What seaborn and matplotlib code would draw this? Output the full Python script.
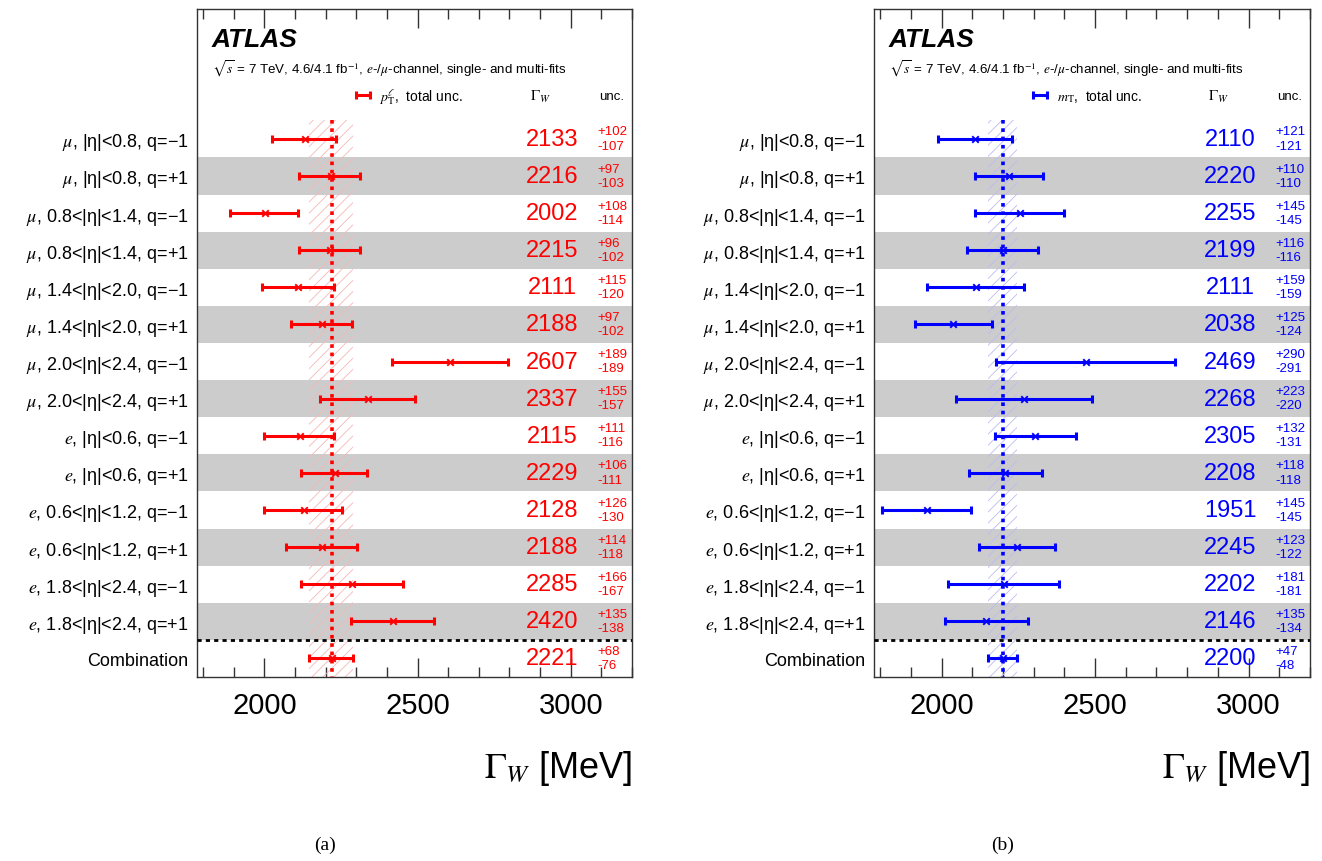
import numpy as np
import pandas as pd
import matplotlib
matplotlib.use("Agg")
import matplotlib.pyplot as plt
from matplotlib.ticker import MultipleLocator
import seaborn as sns

# ---------------- data ----------------
categories = [
    r"$\mu$, |η|<0.8, q=−1",
    r"$\mu$, |η|<0.8, q=+1",
    r"$\mu$, 0.8<|η|<1.4, q=−1",
    r"$\mu$, 0.8<|η|<1.4, q=+1",
    r"$\mu$, 1.4<|η|<2.0, q=−1",
    r"$\mu$, 1.4<|η|<2.0, q=+1",
    r"$\mu$, 2.0<|η|<2.4, q=−1",
    r"$\mu$, 2.0<|η|<2.4, q=+1",
    r"$e$, |η|<0.6, q=−1",
    r"$e$, |η|<0.6, q=+1",
    r"$e$, 0.6<|η|<1.2, q=−1",
    r"$e$, 0.6<|η|<1.2, q=+1",
    r"$e$, 1.8<|η|<2.4, q=−1",
    r"$e$, 1.8<|η|<2.4, q=+1",
    "Combination",
]

pt_values = [2133, 2216, 2002, 2215, 2111, 2188, 2607, 2337, 2115, 2229, 2128, 2188, 2285, 2420, 2221]
pt_up = [102, 97, 108, 96, 115, 97, 189, 155, 111, 106, 126, 114, 166, 135, 68]
pt_down = [107, 103, 114, 102, 120, 102, 189, 157, 116, 111, 130, 118, 167, 138, 76]

mt_values = [2110, 2220, 2255, 2199, 2111, 2038, 2469, 2268, 2305, 2208, 1951, 2245, 2202, 2146, 2200]
mt_up = [121, 110, 145, 116, 159, 125, 290, 223, 132, 118, 145, 123, 181, 135, 47]
mt_down = [121, 110, 145, 116, 159, 124, 291, 220, 131, 118, 145, 122, 181, 134, 48]

xticks = [2000, 2500, 3000]
panel_tags = ["(a)", "(b)"]
legend_labels = [r"$p_{\mathrm{T}}^{\ell}$,  total unc.", r"$m_{\mathrm{T}}$,  total unc."]
colors = ["#ff0000", "#0000ff"]
band_colors = ["#f6b8b8", "#bcbcf2"]

# ---------------- style ----------------
sns.set_style("ticks")
plt.rcParams["font.family"] = ["Liberation Sans", "DejaVu Sans"]
plt.rcParams["mathtext.fontset"] = "stix"
plt.rcParams["hatch.linewidth"] = 0.6
for key in ["text.color", "axes.labelcolor", "xtick.color", "ytick.color", "axes.edgecolor"]:
    plt.rcParams[key] = "black"

W, H = 1322, 862
fig = plt.figure(figsize=(W / 100, H / 100), dpi=100)

def px_axes(x0, y0, x1, y1):
    return fig.add_axes([x0 / W, 1 - y1 / H, (x1 - x0) / W, (y1 - y0) / H])

axes = [px_axes(197, 10, 632, 678), px_axes(874, 10, 1310, 678)]
panel_x = [325, 1003]

datasets = [(pt_values, pt_up, pt_down), (mt_values, mt_up, mt_down)]

n = len(categories)
rows = np.arange(n)

for k, ax in enumerate(axes):
    vals, up, down = datasets[k]
    col = colors[k]
    ax.set_xlim(1780, 3200)
    ax.set_ylim(n - 0.5, -3.5)

    # grey bands for q=+1 rows
    for i in range(1, n - 1, 2):
        ax.axhspan(i - 0.5, i + 0.5, color="#cccccc", lw=0, zorder=0)

    comb = vals[-1]
    # hatched combination band
    ax.fill_betweenx([-0.5, n - 0.5], comb - down[-1], comb + up[-1],
                     facecolor="none", edgecolor=band_colors[k], hatch="///",
                     lw=0, zorder=1)
    ax.vlines(comb, -0.5, n - 0.5, colors=col, linestyles=(0, (1.0, 1.3)),
              lw=2.6, zorder=2)

    # separator before combination
    ax.axhline(n - 1.5, color="black", lw=2, ls=(0, (1.5, 1.5)), zorder=3)

    # error bars
    eb = ax.errorbar(vals, rows, xerr=[down, up], fmt="none", ecolor=col,
                     elinewidth=2.2, capsize=3, capthick=2.2, zorder=4,
                     label=legend_labels[k])
    df = pd.DataFrame({"value": vals, "row": rows})
    sns.scatterplot(data=df, x="value", y="row", ax=ax, marker="x", s=22,
                    color=col, linewidth=1.4, zorder=5, legend=False)

    # value and uncertainty text
    for i in range(n):
        ax.text(2940, i, f"{vals[i]}", color=col, fontsize=17,
                ha="center", va="center", zorder=6)
        ax.text(3086, i - 0.2, f"+{up[i]}", color=col, fontsize=9.5,
                ha="left", va="center", zorder=6)
        ax.text(3086, i + 0.18, f"-{down[i]}", color=col, fontsize=9.5,
                ha="left", va="center", zorder=6)

    # headers
    ax.text(2902, -1.15, r"$\Gamma_W$", fontsize=11, ha="center", va="center")
    ax.text(3133, -1.15, "unc.", fontsize=9.5, ha="center", va="center")
    ax.text(0.034, 0.955, "ATLAS", transform=ax.transAxes, fontsize=19,
            fontweight="bold", fontstyle="italic", ha="left", va="center")
    ax.text(0.034, 0.912,
            r"$\sqrt{s}$ = 7 TeV, 4.6/4.1 fb$^{-1}$, $e$-/$\mu$-channel, single- and multi-fits",
            transform=ax.transAxes, fontsize=9.6, ha="left", va="center")

    leg = ax.legend(handles=[eb], labels=[legend_labels[k]], loc="center left",
                    bbox_to_anchor=(0.362, 0.870), frameon=False, fontsize=10,
                    handlelength=1.2, handletextpad=0.6, borderpad=0,
                    borderaxespad=0)

    # axes & ticks
    ax.set_yticks(rows)
    ax.set_yticklabels(categories, fontsize=13)
    ax.tick_params(axis="y", length=0, pad=6, labelcolor="black")
    ax.set_xticks(xticks)
    ax.set_xticklabels([str(t) for t in xticks], fontsize=21)
    ax.xaxis.set_minor_locator(MultipleLocator(100))
    ax.tick_params(axis="x", which="major", direction="in", length=14,
                   width=1, top=True, bottom=True, pad=10, color="#333333",
                   labelcolor="black")
    ax.tick_params(axis="x", which="minor", direction="in", length=7,
                   width=1, top=True, bottom=True, color="#333333")
    for sp in ax.spines.values():
        sp.set_visible(True)
        sp.set_linewidth(1.0)
        sp.set_color("#333333")
    ax.set_ylabel("")
    ax.set_xlabel(r"$\Gamma_W$ [MeV]", fontsize=26, color="black")
    ax.xaxis.set_label_coords(1.0, -0.135)
    ax.xaxis.label.set_ha("right")
    ax.xaxis.label.set_va("center")

    fig.text(panel_x[k] / W, 1 - 845 / H, panel_tags[k], fontsize=14,
             family="Liberation Serif", ha="center", va="center", color="black")

fig.savefig("out.png", dpi=100)
